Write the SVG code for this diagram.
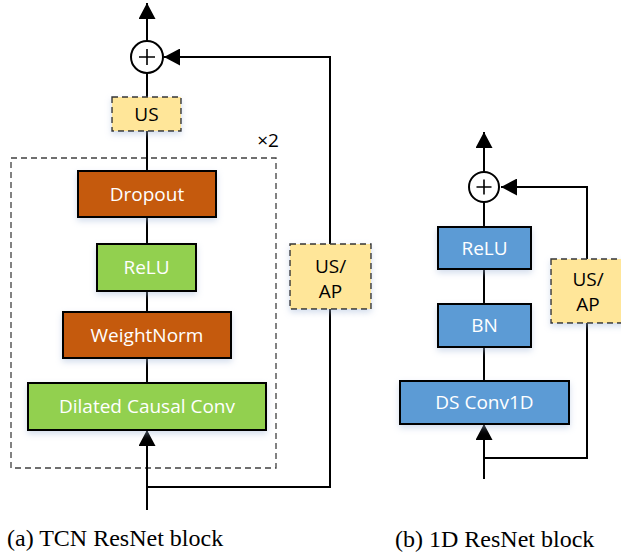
<svg xmlns="http://www.w3.org/2000/svg" width="621" height="552" viewBox="0 0 621 552">
  <defs>
    <filter id="sh" x="-20%" y="-30%" width="140%" height="170%">
      <feDropShadow dx="0" dy="3" stdDeviation="3" flood-color="#9db4d6" flood-opacity="0.45"/>
    </filter>
    <marker id="ah" viewBox="0 0 16 17" refX="16" refY="8.5" markerWidth="16" markerHeight="17" markerUnits="userSpaceOnUse" orient="auto">
      <path d="M0,0 L16,8.5 L0,17 Z" fill="#000"/>
    </marker>
  </defs>
  <style>
    .box { stroke: #000; stroke-width: 2; filter: url(#sh); }
    .dash { stroke: #333; stroke-width: 1.4; stroke-dasharray: 6 4; fill: #FFE699; filter: url(#sh); }
    .orange { fill: #C55A11; }
    .green { fill: #92D050; }
    .blue { fill: #5B9BD5; }
    .lbl { font-family: "Open Sans", "Noto Sans", sans-serif; font-size: 19px; fill: #fff; text-anchor: middle; }
    .dk { fill: #000; }
    .cap { font-family: "Liberation Serif", serif; font-size: 24px; fill: #000; }
    .ln { stroke: #000; stroke-width: 2; fill: none; }
  </style>
  <rect width="621" height="552" fill="#fff"/>

  <!-- container -->
  <g id="repeat-frame">
    <rect x="11" y="158" width="265" height="310" fill="none" stroke="#404040" stroke-width="1.3" stroke-dasharray="6 4"/>
    <text x="268" y="147" style="font-family:'Open Sans','Noto Sans',sans-serif;font-size:19px;fill:#000" text-anchor="middle">×2</text>
  </g>

  <!-- connectors -->
  <g id="connectors">
    <!-- (a) -->
    <line class="ln" x1="147" y1="41" x2="147" y2="3" marker-end="url(#ah)"/>
    <line class="ln" x1="147" y1="73" x2="147" y2="97"/>
    <line class="ln" x1="147" y1="131" x2="147" y2="171"/>
    <line class="ln" x1="147" y1="217" x2="147" y2="244"/>
    <line class="ln" x1="147" y1="291" x2="147" y2="312"/>
    <line class="ln" x1="147" y1="358" x2="147" y2="383"/>
    <line class="ln" x1="147" y1="510" x2="147" y2="430" marker-end="url(#ah)"/>
    <polyline class="ln" points="147,487 330,487 330,309"/>
    <polyline class="ln" points="330,244 330,57 164,57" marker-end="url(#ah)"/>
    <!-- (b) -->
    <line class="ln" x1="484" y1="172" x2="484" y2="132" marker-end="url(#ah)"/>
    <line class="ln" x1="484" y1="202" x2="484" y2="227"/>
    <line class="ln" x1="484" y1="269" x2="484" y2="304"/>
    <line class="ln" x1="484" y1="347" x2="484" y2="381"/>
    <line class="ln" x1="484" y1="479" x2="484" y2="424" marker-end="url(#ah)"/>
    <polyline class="ln" points="484,458 587,458 587,323"/>
    <polyline class="ln" points="587,259 587,187 501,187" marker-end="url(#ah)"/>
  </g>

  <!-- (a) TCN ResNet block nodes -->
  <g id="a-add">
    <circle cx="147" cy="57" r="16" fill="#fff" stroke="#000" stroke-width="2"/>
    <path d="M139,57 H155 M147,49 V65" stroke="#000" stroke-width="1.6"/>
  </g>
  <g id="a-us">
    <rect class="dash" x="112" y="97" width="69" height="34"/>
    <text class="lbl dk" x="146.5" y="121">US</text>
  </g>
  <g id="a-dropout">
    <rect class="box orange" x="78" y="171" width="138" height="46"/>
    <text class="lbl" x="147" y="201">Dropout</text>
  </g>
  <g id="a-relu">
    <rect class="box green" x="97" y="244" width="99" height="47"/>
    <text class="lbl" x="146.5" y="274">ReLU</text>
  </g>
  <g id="a-weightnorm">
    <rect class="box orange" x="63" y="312" width="168" height="46"/>
    <text class="lbl" x="147" y="342">WeightNorm</text>
  </g>
  <g id="a-conv">
    <rect class="box green" x="28" y="383" width="238" height="47"/>
    <text class="lbl" x="147" y="413">Dilated Causal Conv</text>
  </g>
  <g id="a-usap">
    <rect class="dash" x="290" y="244" width="81" height="65"/>
    <text class="lbl dk" x="330.5" y="273">US/</text>
    <text class="lbl dk" x="330.5" y="298">AP</text>
  </g>

  <!-- (b) 1D ResNet block nodes -->
  <g id="b-add">
    <circle cx="484" cy="187" r="15" fill="#fff" stroke="#000" stroke-width="2"/>
    <path d="M476.5,187 H491.5 M484,179.5 V194.5" stroke="#000" stroke-width="1.6"/>
  </g>
  <g id="b-relu">
    <rect class="box blue" x="438" y="227" width="93" height="42"/>
    <text class="lbl" x="484.5" y="255">ReLU</text>
  </g>
  <g id="b-bn">
    <rect class="box blue" x="438" y="304" width="93" height="43"/>
    <text class="lbl" x="484.5" y="332">BN</text>
  </g>
  <g id="b-conv">
    <rect class="box blue" x="400" y="381" width="169" height="43"/>
    <text class="lbl" x="484.5" y="409">DS Conv1D</text>
  </g>
  <g id="b-usap">
    <rect class="dash" x="551" y="259" width="74" height="64"/>
    <text class="lbl dk" x="588" y="286">US/</text>
    <text class="lbl dk" x="588" y="311">AP</text>
  </g>

  <!-- captions -->
  <g id="captions">
    <text class="cap" x="7" y="546">(a) TCN ResNet block</text>
    <text class="cap" x="395" y="547">(b) 1D ResNet block</text>
  </g>
</svg>
